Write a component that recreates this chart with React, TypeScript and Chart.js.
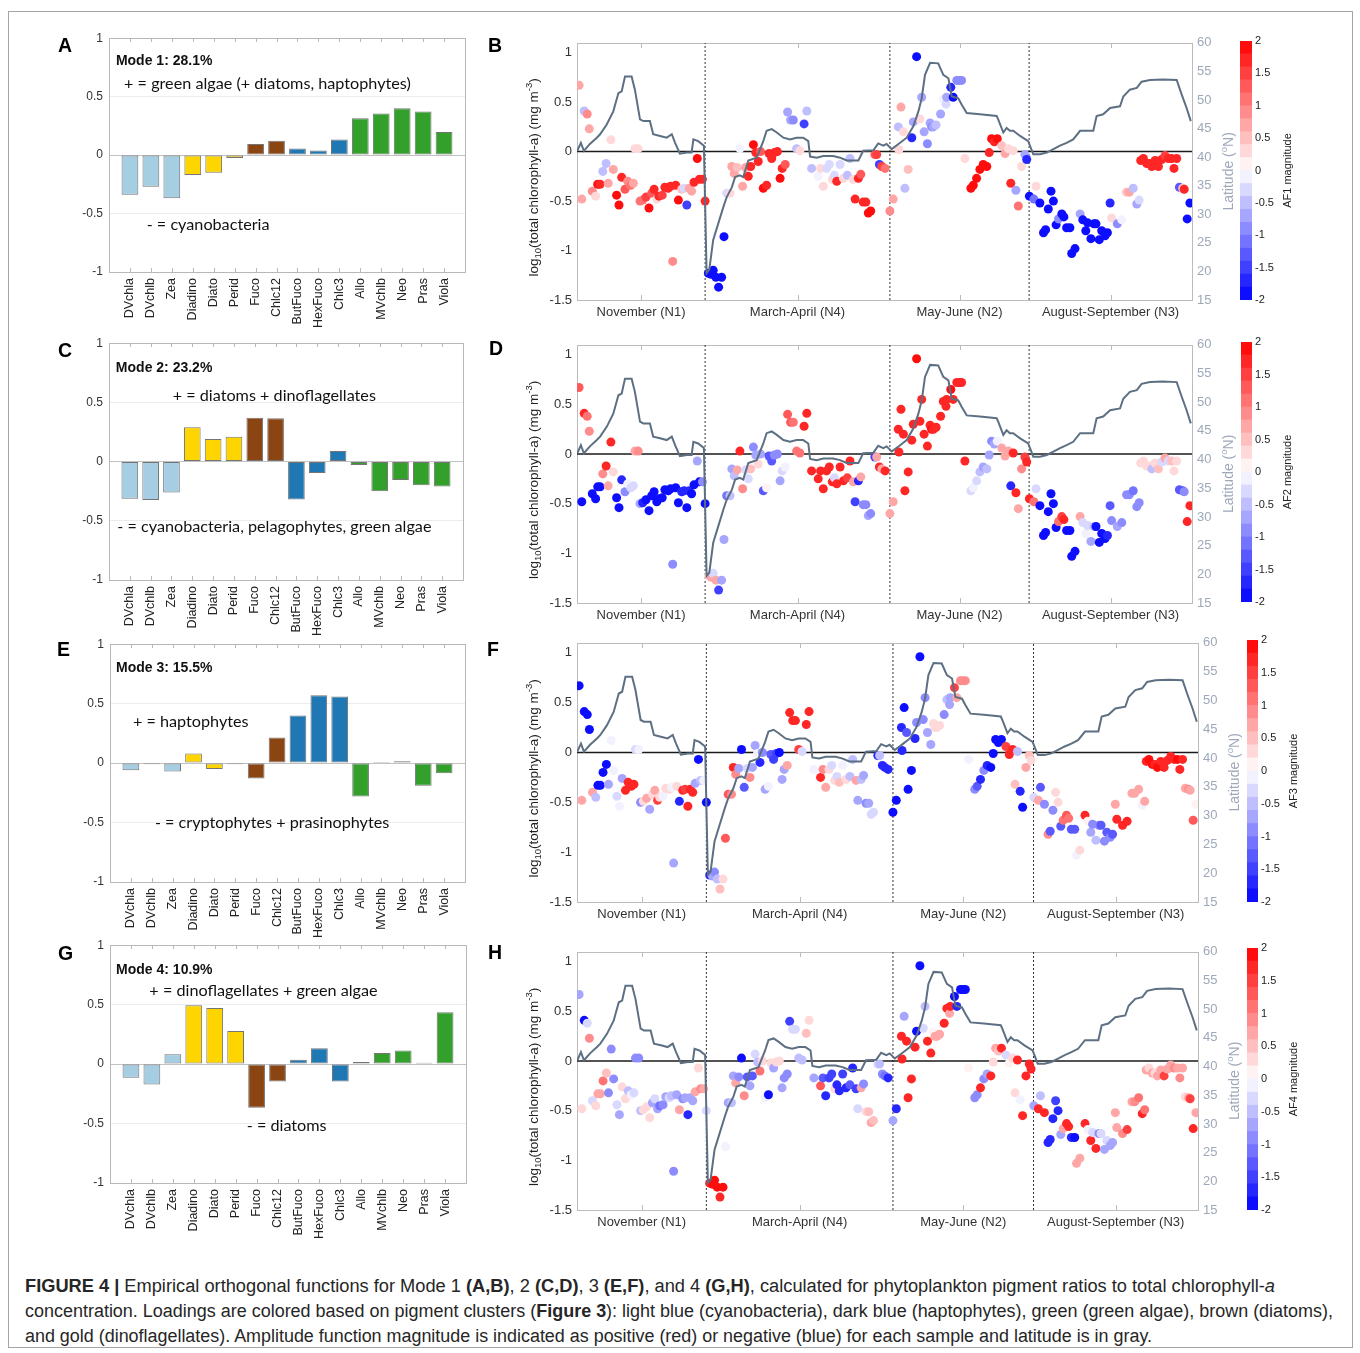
import React, { useEffect, useRef } from 'react';
import { Chart, registerables } from 'chart.js';

Chart.register(...registerables);

const SANS = '"Liberation Sans", Arial, Helvetica, sans-serif';
const NOTE_FONT = 'Lato, "Open Sans", sans-serif';
const LAT_COLOR = '#9ea8b9';

// ---------------- Loadings (left panels) ----------------
const pigments = ['DVchla', 'DVchlb', 'Zea', 'Diadino', 'Diato', 'Perid', 'Fuco', 'Chlc12', 'ButFuco', 'HexFuco', 'Chlc3', 'Allo', 'MVchlb', 'Neo', 'Pras', 'Viola'];
const clusterColors = ['#a6cee3', '#a6cee3', '#a6cee3', '#ffd500', '#ffd500', '#ffd500', '#8b4513', '#8b4513', '#1f78b4', '#1f78b4', '#1f78b4', '#33a02c', '#33a02c', '#33a02c', '#33a02c', '#33a02c'];
const mode1Loadings = [-0.34, -0.27, -0.37, -0.17, -0.15, -0.025, 0.095, 0.123, 0.056, 0.04, 0.134, 0.316, 0.355, 0.40, 0.374, 0.198];
const mode2Loadings = [-0.314, -0.325, -0.26, 0.29, 0.19, 0.21, 0.37, 0.367, -0.32, -0.097, 0.09, -0.028, -0.25, -0.155, -0.2, -0.21];
const mode3Loadings = [-0.06, -0.01, -0.07, 0.08, -0.05, -0.01, -0.13, 0.215, 0.40, 0.57, 0.56, -0.28, 0.01, 0.015, -0.19, -0.085];
const mode4Loadings = [-0.114, -0.172, 0.083, 0.494, 0.472, 0.278, -0.367, -0.147, 0.036, 0.133, -0.147, 0.017, 0.094, 0.114, 0.011, 0.436];
const loadingTicks = [-1, -0.5, 0, 0.5, 1];

// ---------------- Amplitude functions (right panels) ----------------
const cruiseLabels = ['November (N1)', 'March-April (N4)', 'May-June (N2)', 'August-September (N3)'];
const cruiseBounds = [0, 42.7, 104.3, 150.7, 205];
const chlTicks = [-1.5, -1, -0.5, 0, 0.5, 1];
const chlMax = 1.1;
const latTicks = [15, 20, 25, 30, 35, 40, 45, 50, 55, 60];
const magTicks = [-2, -1.5, -1, -0.5, 0, 0.5, 1, 1.5, 2];

const sampleX = [
  0.7, 1.6, 2.4, 3.4, 4.1, 5.1, 6.2, 6.9, 7.7, 8.6, 9.7, 10.4, 11.3, 12.1, 13.2, 14.0, 14.9, 16.0, 16.9, 17.9, 18.8, 19.3, 20.4, 21.0, 21.9, 23.0, 24.0, 24.9, 25.7, 26.6, 27.3, 28.4, 29.3, 30.4, 31.2, 31.9, 32.9, 33.8, 34.9, 35.7, 36.6, 37.4, 38.2, 39.0, 40.1, 40.8, 41.8, 42.7,
  43.8, 44.7, 45.4, 46.3, 47.2, 48.2, 49.0, 49.9, 51.0, 51.6, 52.4, 53.4, 54.3, 55.2, 56.2, 57.1, 57.9, 58.8, 59.6, 60.4, 61.2, 62.1, 63.2, 64.0, 64.9, 65.8, 66.8, 67.7, 68.4, 69.4, 70.2, 71.2, 72.1, 73.2, 74.3, 75.7, 76.6, 78.2, 80.4, 81.2, 82.1, 83.2, 84.1, 85.1, 85.8, 86.6, 87.7, 88.8, 90.1, 91.0, 92.1, 92.7, 93.8, 94.6, 95.4, 96.3, 97.1, 97.9, 99.3, 99.9, 100.8, 101.6, 102.7, 104.3,
  105.4, 107.1, 107.3, 108.0, 108.8, 109.3, 110.4, 111.6, 112.1, 113.2, 114.3, 114.9, 115.7, 116.8, 117.7, 118.2, 118.8, 119.7, 121.2, 122.1, 123.0, 123.2, 124.6, 125.4, 126.6, 127.4, 128.2, 129.3, 131.3, 132.1, 133.2, 134.3, 135.4, 136.6, 137.4, 138.2, 139.1, 140.1, 141.6, 142.7, 143.8, 144.6, 145.4, 146.3, 147.1, 148.2, 149.3, 149.9,
  150.8, 152.3, 153.0, 154.3, 155.5, 156.2, 157.1, 158.0, 158.8, 159.7, 160.5, 161.6, 162.3, 163.2, 164.3, 164.9, 166.0, 167.7, 168.6, 169.6, 170.2, 171.3, 172.3, 173.0, 174.1, 174.9, 176.0, 176.8, 177.7, 178.2, 180.1, 181.6, 183.2, 184.1, 185.4, 186.6, 187.4, 187.9, 188.8, 189.9, 190.8, 191.6, 192.7, 193.8, 194.9, 196.0, 197.1, 198.2, 199.0, 199.9, 200.8, 201.9, 202.4, 203.4, 204.3,
];

const logChl = [
  0.67, -0.48, 0.41, 0.38, 0.23, -0.40, -0.45, -0.33, -0.33, -0.20, -0.12, -0.32, 0.12, -0.18, -0.44, -0.54, -0.26, -0.38, -0.30, -0.34, -0.32, 0.03, 0.03, -0.50, -0.49, -0.46, -0.57, -0.42, -0.38, -0.48, -0.45, -0.44, -0.36, -0.37, -0.35, -1.11, -0.34, -0.49, -0.38, -0.37, -0.54, -0.37, -0.40, -0.31, -0.07, -0.28, -0.28, -0.50,
  -1.23, -1.24, -1.20, -1.27, -1.37, -1.27, -0.86, -0.42, -0.42, -0.15, -0.22, -0.16, 0.03, -0.35, -0.16, -0.25, -0.15, 0.07, -0.01, -0.10, 0.00, -0.37, -0.34, -0.02, -0.07, -0.01, 0.00, -0.27, -0.17, -0.13, 0.40, 0.32, 0.32, 0.03, 0.01, 0.28, 0.41, -0.17, -0.25, -0.17, -0.35, -0.17, -0.13, -0.28, -0.24, -0.30, -0.13, -0.27, -0.24, -0.07, -0.28, -0.48, -0.27, -0.23, -0.51, -0.51, -0.62, -0.60, -0.03, -0.03, -0.13, -0.15, -0.17, -0.60,
  -0.48, 0.25, 0.02, 0.45, 0.20, -0.37, -0.18, 0.14, 0.30, 0.96, 0.33, 0.55, 0.20, 0.08, 0.29, 0.25, 0.25, 0.27, 0.38, 0.53, 0.48, 0.55, 0.65, 0.55, 0.72, 0.72, 0.72, -0.07, -0.37, -0.34, -0.27, -0.18, -0.13, -0.15, -0.01, 0.13, 0.10, 0.13, 0.06, -0.02, 0.03, -0.32, 0.01, -0.39, -0.55, -0.15, -0.03, -0.08,
  -0.45, -0.48, -0.35, -0.52, -0.82, -0.79, -0.58, -0.40, -0.50, -0.74, -0.68, -0.63, -0.66, -0.77, -0.77, -1.03, -0.98, -0.63, -0.69, -0.80, -0.72, -0.88, -0.73, -0.73, -0.89, -0.80, -0.85, -0.82, -0.52, -0.67, -0.73, -0.69, -0.41, -0.41, -0.37, -0.53, -0.49, -0.09, -0.07, -0.12, -0.12, -0.15, -0.09, -0.15, -0.08, -0.04, -0.07, -0.07, -0.17, -0.07, -0.36, -0.37, -0.38, -0.68, -0.52,
];

const af1 = [
  0.8, 0.8, -0.5, 0.9, 0.8, 0.9, 0.2, 2, 1.8, -0.5, -0.5, 0.7, 0.2, 0.6, 2, 2, 1.8, 1.2, 0.9, 1.0, 0.8, 0.4, 0.4, 1.0, 1.0, 1.5, 2, 1.3, 1.7, 0.4, 1.8, 1.5, 1.7, 1.6, 1.7, 0.9, 1.8, 1.9, 0.5, -0.4, -1.5, 0.6, 0.6, 1.8, 2, 1.8, 1.7, 1.6,
  -2, -2, -2, -2, -2, -2, -2, -0.3, 0.2, 0.7, 0.6, 0.5, -0.2, 0.8, 0.8, 1.7, 1.6, 2, 1.8, 1.6, 1.3, 2, 1.7, 1.8, 1.8, 1.8, 1.8, 2, 1.6, 1.2, -0.7, -0.6, -0.9, -0.5, 0.3, -1.5, -0.5, -0.5, -0.2, 0.2, 0.3, -0.4, -0.4, 0.2, -0.4, 1.8, -0.4, 0.2, -0.5, -0.5, 0.3, 1.8, 1.6, 1.2, 1.8, 1.8, 2, 1.9, 1.2, 1.5, -1.5, 1.4, 1.1, 0.9,
  0.8, -0.5, 0.2, 0.6, 0.3, -0.5, 0.5, -1.6, -0.6, -2, 0.4, -0.7, -0.6, -0.8, -0.6, -0.8, -0.7, -0.5, -0.7, -0.2, -0.3, -0.6, -1.6, -1.8, -1.0, -1.0, -1.0, 0.4, 2, 2, 2, 1.9, 1.9, 1.9, 1.8, 1.9, 1.8, 1.9, 0.5, 0.8, 0.4, 1.8, 0.4, -0.6, 1.1, 0.2, -0.6, -1.6,
  -1.8, -1.2, 0.4, -1.8, -2, -2, -2, -1.8, -1.8, -1.9, -0.8, -1.8, -1.8, -1.9, -1.9, -2, -2, -0.6, -1.8, -1.9, -1.9, -1.9, -1.9, -1.9, -1.9, -1.9, -1.9, -1.9, -1.6, 0.4, -0.8, -0.2, 0.5, 0.7, -0.5, -0.6, -0.3, 1.8, 1.8, 1.8, 1.8, 1.8, 1.8, 1.8, 1.8, 1.4, 1.8, 1.8, 1.7, 1.8, -1.4, 0.5, 1.8, -1.8, -1.8,
];

const af2 = [
  1.2, -2, 1.8, 1.0, 0.9, -1.8, -2, -1.8, -1.8, 0.9, 1.6, 0.8, 1.8, 0.4, -1.8, -2, -1.6, -0.8, -0.2, -0.4, -0.4, 0.8, 0.9, -0.6, -1.6, -2, -2, -1.8, -2, -1.8, -1.8, -1.8, -2, -1.8, -2, -0.8, -1.8, -2, -1.6, -1.6, -2, -1.6, -1.8, -1.8, -0.7, -1.8, -0.8, -1.8,
  0.3, 0.6, -0.3, 0.6, -1.5, -0.6, -0.6, -1.2, -0.5, -0.6, -0.5, 0.7, 1.8, 0.9, -0.4, -0.3, 0.5, -0.8, -0.6, 0.2, -0.6, -1.4, 0.1, -1.3, -1.3, -0.8, -0.8, -0.7, -0.3, -0.2, 1.2, 1.2, 1.0, 1.0, 1.0, 1.8, 1.8, 1.8, 1.7, 1.8, 1.8, 1.7, 1.6, 1.6, -0.3, 1.7, 1.6, 1.8, 1.5, 1.8, 0.7, -1.5, -1.6, 0.7, -0.9, -0.8, -0.7, -0.8, -1.5, 0.6, 1.6, 0.8, 1.6, 0.8,
  0.8, 1.6, 1.6, 1.8, 1.7, 1.8, 1.7, 1.8, 1.7, 2, 1.8, 1.8, 1.8, 1.8, 1.8, 1.9, 1.8, 1.8, 1.8, 1.8, 1.8, 1.8, 1.9, 1.8, 1.8, 1.8, 1.8, 1.6, -0.3, -0.1, -0.4, -0.5, -0.6, -0.5, -0.7, -0.8, -0.6, -0.2, 0.6, 0.8, 0.7, -1.6, 1.8, 1.8, 0.8, 0.9, 1.5, 1.8,
  1.8, 1.0, -0.3, -1.8, -2, -2, -2, -1.8, -1.8, -2, 1.1, 1.4, 1.6, -1.9, -1.9, -2, -2, 0.8, -0.4, -0.2, -0.4, -0.6, -0.5, -1.8, -1.8, -1.8, -1.8, -1.7, -1.4, -0.8, -0.6, -0.8, -1.0, -1.0, -1.1, -1.0, -1.0, 0.2, 0.3, 0.3, 0.3, -0.5, 0.3, 0.5, -0.3, 0.6, -0.4, 0.5, 0.2, 0.3, -1.4, -1.3, -1.0, 1.8, 1.8,
];

const af3 = [
  -1.8, 0.7, -1.8, -1.8, -1.8, 0.6, -0.5, -1.8, -1.8, -1.8, -1.8, -0.6, -0.1, -0.2, -0.4, -0.2, -0.7, 1.6, 1.8, 1.8, 1.7, -0.3, -0.1, -0.8, 0.4, 0.6, -0.6, 0.4, 0.6, 1.4, 0.2, -0.1, 0.2, 0.3, -0.1, -0.6, 0.3, -1.6, 1.6, 1.4, 1.8, 1.7, 1.6, -0.6, -1.8, -0.5, -0.2, -1.8,
  -1.6, -0.6, -0.8, -0.5, 0.5, 0.4, 1.3, 1.2, 0.9, 1.6, 0.9, -0.7, -1.8, -1.4, -0.4, 0.9, -0.7, -0.7, -0.2, -1.6, -1.0, -0.7, -0.2, -1.4, -1.5, -1.5, -1.8, -0.6, -0.7, 0.7, 1.8, 1.8, 1.7, 1.4, -0.3, 1.6, 1.7, -0.1, 1.6, 0.9, 0.6, 0.2, -0.3, 0.3, -0.4, 0.5, -0.1, 0.2, -0.5, -0.5, 0.6, -0.7, -0.5, -0.6, -0.8, -0.7, -0.3, -0.4, -1.6, -0.5, -1.6, -1.6, -1.6, -1.8,
  -1.8, -1.6, -1.6, -1.8, -1.4, -1.8, -1.8, -1.6, -0.8, -2, -0.8, -0.8, -0.6, -0.6, 0.3, 0.2, 0.3, 0.3, -0.8, -0.5, -0.6, -0.7, 1.4, 0.6, 0.9, 0.9, 0.9, -0.2, -1.0, -1.4, -1.6, -1.0, -1.6, -1.8, -1.8, -1.8, -1.8, -1.8, 1.4, 1.6, 1.8, 0.5, -0.5, -1.6, -1.8, 0.8, 0.5, 0.4,
  -0.4, 0.6, -1.4, -1.0, 0.9, -1.4, -0.8, 0.4, 0.2, -1.4, 1.0, 1.3, 1.0, -1.4, -1.4, -0.2, 0.3, 1.6, 0.1, -0.6, -0.8, -0.5, -0.8, -1.3, -1.0, -1.4, -1.0, -1.3, 0.6, 1.8, 1.8, 1.7, 0.7, 0.7, 0.6, -0.1, 0.6, 1.8, 1.9, 1.9, 1.8, 1.9, 1.8, 1.8, 1.8, 1.8, 1.8, 1.9, 1.8, 1.8, 0.8, 0.9, 0.8, 1.3, 0.1,
];

const af4 = [
  -0.6, 0.3, -1.8, -0.3, 0.9, -0.3, 0.4, 0.8, 0.8, 1.0, 0.5, -0.8, -1.0, -0.9, -0.3, -0.6, 0.2, 0.3, -0.5, -0.2, -0.4, -0.8, -0.8, -0.5, 0.2, 0.4, 0.4, -0.6, -0.4, -0.6, -1.1, -1.0, -0.6, -0.4, -0.5, -0.8, -0.7, 0.6, -0.9, -0.7, -1.6, -0.7, -0.6, 0.7, 0.4, 0.9, 0.8, -0.4,
  1.8, 1.9, 2, 1.9, 1.8, 1.9, -0.1, -0.6, -0.5, -0.7, 0.7, -0.8, -1.8, 0.9, -1.3, -0.7, -1.3, -0.3, -0.5, 1.0, 0.4, -0.1, -1.8, 0.2, -0.6, 0.2, 0.2, -0.7, -0.8, -0.9, -1.5, -0.4, -0.4, -0.5, -0.5, 0.5, 0.4, -0.6, 1.3, -1.4, -1.6, -1.5, -1.5, 0.2, -1.6, -1.6, -1.5, -1.6, -1.4, -1.6, -1.5, -0.3, 0.6, -0.8, 0.4, 0.5, 0.6, 0.5, -0.4, -0.5, -1.0, -1.2, -1.6, -0.7,
  -1.6, 1.6, 1.8, -0.6, 1.6, 1.8, 1.8, 1.6, -1.8, -2, -0.3, -0.5, 1.6, 1.7, 0.1, 0.8, 0.7, 0.6, 1.6, 1.7, 0.8, 1.7, -1.8, -1.6, -1.8, -1.8, -1.8, 0.1, -0.8, -0.8, 1.6, -0.8, -0.6, 1.6, 0.2, 0.6, 0.5, 1.6, -0.3, 0.1, 0.2, 0.4, 1.8, -0.2, 1.8, 1.8, 1.8, 1.8,
  -0.6, 1.8, -0.5, 1.8, -1.6, -1.6, -1.6, -1.5, -1.6, -0.6, 0.7, 1.6, 1.8, -1.7, -1.8, 0.7, 0.6, 1.8, -0.1, 1.8, -0.3, 1.8, -1.0, -0.3, -0.7, -0.4, -0.6, -0.7, 0.6, 0.8, 0.9, 1.4, 0.8, 0.9, 1.0, 1.6, 1.0, 0.6, 0.3, 0.6, 0.4, 0.8, 0.8, 1.5, 0.8, 0.8, 0.9, 0.8, 0.9, 0.8, 0.4, 0.8, 1.4, 1.8, 0.8,
];

// ship track latitude (right axis)
const trackX = [
  0.1, 1.3, 2.3, 4.3, 6.6, 7.7, 9.9, 12.1, 13.8, 14.9, 16.0, 18.2, 19.3, 21.0, 22.1, 24.3, 25.4, 27.7, 29.9, 31.6, 32.7, 34.3, 36.6, 38.2, 38.8, 40.4, 42.3, 43.2, 44.1, 45.4, 47.1, 48.8, 49.9, 51.6, 52.7, 54.3, 55.4, 57.1, 59.9, 62.1, 63.2, 64.9, 66.6, 68.8, 71.0, 73.2, 75.4, 77.1, 77.7, 79.9, 82.1, 85.4, 87.7, 89.9, 93.8, 95.4, 98.8, 100.4, 102.1, 103.2, 104.9,
  107.7, 109.9, 112.1, 113.8, 114.9, 116.0, 117.7, 120.4, 122.1, 123.8, 124.9, 127.1, 128.2, 129.9, 134.3, 139.9, 140.4, 142.1, 143.2, 144.3, 145.4, 147.7, 150.4, 152.1, 154.3, 156.6, 158.8, 161.0, 163.2, 165.4, 167.7, 172.1, 173.2, 175.4, 177.7, 181.0, 182.1, 184.3, 186.6, 188.2, 191.0, 195.4, 199.9, 201.6, 203.2, 204.6,
];
const trackLat = [
  41.1, 42.5, 41.1, 42.3, 43.4, 44.0, 45.7, 48.0, 51.2, 51.5, 54.1, 54.1, 51.8, 46.6, 46.3, 46.3, 44.0, 43.7, 43.4, 44.0, 42.5, 40.6, 40.8, 40.8, 43.1, 42.8, 42.0, 19.7, 20.3, 25.5, 28.4, 31.3, 33.0, 34.7, 36.5, 36.8, 36.5, 39.4, 39.9, 42.8, 44.6, 44.9, 44.3, 43.4, 43.1, 43.4, 43.4, 42.8, 40.1, 39.9, 40.2, 40.2, 39.9, 39.4, 39.4, 41.1, 41.2, 42.4, 42.0, 42.3, 41.4,
  42.5, 43.4, 45.4, 48.0, 50.3, 54.4, 56.5, 56.4, 54.4, 53.8, 50.6, 50.3, 49.2, 47.7, 47.5, 47.2, 46.6, 44.3, 45.1, 44.6, 44.6, 43.7, 42.8, 40.5, 40.5, 40.8, 41.4, 42.0, 42.5, 43.1, 44.6, 44.6, 47.2, 47.5, 48.6, 48.9, 50.6, 51.8, 52.1, 53.2, 53.5, 53.6, 53.5, 50.9, 48.6, 46.3,
];

// ---------------- helpers ----------------
function magColor(m: number) {
  const k = Math.min(19, Math.max(0, Math.floor((m + 2) / 0.2)));
  const c = -2 + 0.2 * k + 0.1;
  const f = Math.round(255 * (1 - Math.abs(c) / 2));
  return c > 0 ? `rgb(255,${f},${f})` : `rgb(${f},${f},255)`;
}

const plainNumber = (v: any) => `${Math.round(Number(v) * 100) / 100}`;

type Seg = { t: string; size: number; dy?: number };
function drawRich(ctx: CanvasRenderingContext2D, cx: number, cy: number, segs: Seg[], color: string, rot: number) {
  ctx.save();
  ctx.translate(cx, cy);
  ctx.rotate(rot);
  ctx.fillStyle = color;
  ctx.textAlign = 'left';
  ctx.textBaseline = 'alphabetic';
  let total = 0;
  const ws = segs.map((s) => {
    ctx.font = `${s.size}px ${SANS}`;
    const w = ctx.measureText(s.t).width;
    total += w;
    return w;
  });
  let x = -total / 2;
  const base = segs[0].size * 0.36;
  segs.forEach((s, i) => {
    ctx.font = `${s.size}px ${SANS}`;
    ctx.fillText(s.t, x, base + (s.dy || 0));
    x += ws[i];
  });
  ctx.restore();
}

// box around the plot area plus short inward tick marks on the x axis (top and bottom)
const framePlugin = (color: string, tickLen: number) => ({
  id: 'frame',
  beforeDatasetsDraw(chart: any) {
    const { ctx, chartArea: a } = chart;
    const xs = chart.scales.x;
    ctx.save();
    ctx.strokeStyle = color;
    ctx.lineWidth = 1;
    const l = Math.round(a.left), t = Math.round(a.top), r = Math.round(a.right), b = Math.round(a.bottom);
    ctx.strokeRect(l + 0.5, t + 0.5, r - l, b - t);
    ctx.beginPath();
    xs.ticks.forEach((tk: any) => {
      const px = Math.round(xs.getPixelForValue(tk.value)) + 0.5;
      if (px <= l + 1 || px >= r - 1) return;
      ctx.moveTo(px, t);
      ctx.lineTo(px, t + tickLen);
      ctx.moveTo(px, b);
      ctx.lineTo(px, b - tickLen);
    });
    ctx.stroke();
    ctx.restore();
  },
});

type Note = { x: number; y: number; text: string; bold?: boolean };
const notesPlugin = (notes: Note[]) => ({
  id: 'notes',
  afterDatasetsDraw(chart: any) {
    const { ctx } = chart;
    const xs = chart.scales.x;
    const ys = chart.scales.y;
    notes.forEach((n) => {
      ctx.save();
      ctx.font = n.bold ? `bold 14px ${SANS}` : `16.2px ${NOTE_FONT}`;
      ctx.fillStyle = '#111';
      ctx.textAlign = 'left';
      ctx.textBaseline = 'middle';
      ctx.fillText(n.text, xs.getPixelForValue(n.x), ys.getPixelForValue(n.y));
      ctx.restore();
    });
  },
});

const scatterTitlesPlugin = () => ({
  id: 'axisTitles',
  afterDraw(chart: any) {
    const { ctx, chartArea: a } = chart;
    const mid = (a.top + a.bottom) / 2;
    drawRich(ctx, a.left - 44, mid + 6, [
      { t: 'log', size: 13.5 },
      { t: '10', size: 9.5, dy: 3 },
      { t: '(total chlorophyll-a) (mg m', size: 13.5 },
      { t: '-3', size: 9.5, dy: -6 },
      { t: ')', size: 13.5 },
    ], '#222', -Math.PI / 2);
    drawRich(ctx, a.right + 36, mid, [
      { t: 'Latitude (', size: 14 },
      { t: 'o', size: 9.5, dy: -6 },
      { t: 'N)', size: 14 },
    ], LAT_COLOR, -Math.PI / 2);
  },
});

const cbarTitlePlugin = (text: string) => ({
  id: 'cbarTitle',
  afterDraw(chart: any) {
    const { ctx, chartArea: a } = chart;
    drawRich(ctx, a.right + 35, (a.top + a.bottom) / 2, [{ t: text, size: 11 }], '#222', -Math.PI / 2);
  },
});

// ---------------- chart configs ----------------
function barConfig(values: number[], notes: Note[], xAxisH: number) {
  const labels = ['', ...pigments, ''];
  const data = [null, ...values, null];
  const colors = ['rgba(0,0,0,0)', ...clusterColors, 'rgba(0,0,0,0)'];
  return {
    type: 'bar',
    data: {
      labels,
      datasets: [{
        data,
        backgroundColor: colors,
        borderColor: 'rgba(70,70,70,0.75)',
        borderWidth: 1,
        borderSkipped: false,
        barPercentage: 0.8,
        categoryPercentage: 1,
      }],
    },
    options: {
      animation: false,
      responsive: false,
      events: [],
      layout: { padding: { top: 10, right: 26, left: 0, bottom: 0 } },
      plugins: { legend: { display: false }, tooltip: { enabled: false } },
      scales: {
        x: {
          type: 'category',
          offset: false,
          grid: { display: false, drawTicks: false },
          border: { display: false },
          ticks: { autoSkip: false, minRotation: 90, maxRotation: 90, padding: 6, color: '#222', font: { size: 12.5, family: SANS } },
          afterFit: (s: any) => { s.height = xAxisH; },
        },
        y: {
          min: loadingTicks[0],
          max: loadingTicks[loadingTicks.length - 1],
          afterBuildTicks: (s: any) => { s.ticks = loadingTicks.map((v) => ({ value: v })); },
          ticks: { padding: 6, color: '#333', font: { size: 12, family: SANS }, callback: plainNumber },
          grid: {
            drawTicks: false,
            lineWidth: 1,
            color: (c: any) => {
              const v = c.tick ? c.tick.value : null;
              if (v === 0) return '#c2c2c2';
              if (v === 0.5 || v === -0.5) return '#ececec';
              return 'rgba(0,0,0,0)';
            },
          },
          border: { display: false },
          afterFit: (s: any) => { s.width = 49; },
        },
      },
    },
    plugins: [framePlugin('#b8b8b8', 4), notesPlugin(notes)],
  };
}

function scatterConfig(mags: number[]) {
  const mids = cruiseBounds.slice(0, -1).map((b, i) => (b + cruiseBounds[i + 1]) / 2);
  const xMin = cruiseBounds[0];
  const xMax = cruiseBounds[cruiseBounds.length - 1];
  const yMin = chlTicks[0];
  const points = sampleX.map((x, i) => ({ x, y: logChl[i] }));
  const track = trackX.map((x, i) => ({ x, y: trackLat[i] }));
  const dividers = cruiseBounds.slice(1, -1).map((b) => ({
    type: 'scatter',
    data: [{ x: b, y: yMin }, { x: b, y: chlMax }],
    showLine: true,
    borderColor: '#333',
    borderWidth: 1,
    borderDash: [2, 2],
    pointRadius: 0,
    yAxisID: 'y',
    order: 3,
  }));
  return {
    type: 'scatter',
    data: {
      datasets: [
        { type: 'scatter', data: track, yAxisID: 'y2', showLine: true, borderColor: '#5d6f82', borderWidth: 2, pointRadius: 0, order: 0 },
        { type: 'scatter', data: points, yAxisID: 'y', pointRadius: 4.5, pointBackgroundColor: mags.map(magColor), pointBorderWidth: 0, order: 1 },
        { type: 'scatter', data: [{ x: xMin, y: 0 }, { x: xMax, y: 0 }], yAxisID: 'y', showLine: true, borderColor: '#1a1a1a', borderWidth: 1.5, pointRadius: 0, order: 2 },
        ...dividers,
      ],
    },
    options: {
      animation: false,
      responsive: false,
      events: [],
      layout: { padding: { top: 10, right: 0, left: 0, bottom: 0 } },
      plugins: { legend: { display: false }, tooltip: { enabled: false } },
      scales: {
        x: {
          type: 'linear',
          min: xMin,
          max: xMax,
          afterBuildTicks: (s: any) => { s.ticks = mids.map((v) => ({ value: v })); },
          ticks: { autoSkip: false, maxRotation: 0, padding: 5, color: '#333', font: { size: 13, family: SANS }, callback: (_v: any, i: number) => cruiseLabels[i] },
          grid: { display: false, drawTicks: false },
          border: { display: false },
          afterFit: (s: any) => { s.height = 24; },
        },
        y: {
          position: 'left',
          min: yMin,
          max: chlMax,
          afterBuildTicks: (s: any) => { s.ticks = chlTicks.map((v) => ({ value: v })); },
          ticks: { padding: 5, color: '#333', font: { size: 13, family: SANS }, callback: plainNumber },
          grid: { display: false, drawTicks: false },
          border: { display: false },
          afterFit: (s: any) => { s.width = 55; },
        },
        y2: {
          position: 'right',
          min: latTicks[0],
          max: latTicks[latTicks.length - 1],
          afterBuildTicks: (s: any) => { s.ticks = latTicks.map((v) => ({ value: v })); },
          ticks: { padding: 5, color: LAT_COLOR, font: { size: 13, family: SANS }, callback: plainNumber },
          grid: { display: false, drawTicks: false },
          border: { display: false },
          afterFit: (s: any) => { s.width = 44; },
        },
      },
    },
    plugins: [framePlugin('#bcbcbc', 5), scatterTitlesPlugin()],
  };
}

function cbarConfig(title: string) {
  const bands: { lo: number; hi: number }[] = [];
  for (let k = 0; k < 20; k++) bands.push({ lo: -2 + 0.2 * k, hi: -2 + 0.2 * (k + 1) });
  return {
    type: 'bar',
    data: {
      labels: [''],
      datasets: bands.map((b) => ({
        data: [[b.lo, b.hi]],
        backgroundColor: magColor((b.lo + b.hi) / 2),
        grouped: false,
        barPercentage: 1,
        categoryPercentage: 1,
        borderWidth: 0,
      })),
    },
    options: {
      animation: false,
      responsive: false,
      events: [],
      layout: { padding: { top: 10, right: 0, left: 0, bottom: 10 } },
      plugins: { legend: { display: false }, tooltip: { enabled: false } },
      scales: {
        x: { display: false },
        y: {
          position: 'right',
          min: magTicks[0],
          max: magTicks[magTicks.length - 1],
          afterBuildTicks: (s: any) => { s.ticks = magTicks.map((v) => ({ value: v })); },
          ticks: { padding: 3, color: '#222', font: { size: 11, family: SANS }, callback: plainNumber },
          grid: { display: false, drawTicks: false },
          border: { display: false },
          afterFit: (s: any) => { s.width = 50; },
        },
      },
    },
    plugins: [cbarTitlePlugin(title)],
  };
}

// ---------------- components ----------------
type Box = { left: number; top: number; width: number; height: number };
function ChartCanvas({ box, make }: { box: Box; make: () => any }) {
  const ref = useRef<HTMLCanvasElement | null>(null);
  useEffect(() => {
    const chart = new Chart(ref.current as HTMLCanvasElement, make());
    return () => chart.destroy();
  }, []);
  return (
    <canvas
      ref={ref}
      width={box.width}
      height={box.height}
      style={{ position: 'absolute', left: box.left, top: box.top, width: box.width, height: box.height }}
    />
  );
}

type Area = { L: number; T: number; R: number; B: number };
type Row = {
  letters: [string, string];
  letterPos: [[number, number], [number, number]];
  loadings: number[];
  notes: Note[];
  mags: number[];
  afName: string;
  bar: Area & { bottom: number };
  sc: Area;
  cb: Area;
};

const rows: Row[] = [
  {
    letters: ['A', 'B'], letterPos: [[58, 52], [488, 52]],
    loadings: mode1Loadings, mags: af1, afName: 'AF1 magnitude',
    notes: [
      { x: 0.33, y: 0.80, text: 'Mode 1: 28.1%', bold: true },
      { x: 0.72, y: 0.61, text: '+ = green algae (+ diatoms, haptophytes)' },
      { x: 1.8, y: -0.594, text: '- = cyanobacteria' },
    ],
    bar: { L: 109, T: 35, R: 465, B: 272, bottom: 332 },
    sc: { L: 577, T: 40, R: 1192, B: 300 },
    cb: { L: 1240, T: 41, R: 1252, B: 300 },
  },
  {
    letters: ['C', 'D'], letterPos: [[58, 357], [489, 355]],
    loadings: mode2Loadings, mags: af2, afName: 'AF2 magnitude',
    notes: [
      { x: 0.33, y: 0.79, text: 'Mode 2: 23.2%', bold: true },
      { x: 3.06, y: 0.556, text: '+ = diatoms + dinoflagellates' },
      { x: 0.4, y: -0.55, text: '- = cyanobacteria, pelagophytes, green algae' },
    ],
    bar: { L: 109, T: 340, R: 463, B: 580, bottom: 640 },
    sc: { L: 577, T: 342, R: 1192, B: 603 },
    cb: { L: 1241, T: 342, R: 1252, B: 602 },
  },
  {
    letters: ['E', 'F'], letterPos: [[57, 656], [487, 656]],
    loadings: mode3Loadings, mags: af3, afName: 'AF3 magnitude',
    notes: [
      { x: 0.29, y: 0.80, text: 'Mode 3: 15.5%', bold: true },
      { x: 1.1, y: 0.35, text: '+ = haptophytes' },
      { x: 2.15, y: -0.506, text: '- = cryptophytes + prasinophytes' },
    ],
    bar: { L: 110, T: 641, R: 465, B: 882, bottom: 942 },
    sc: { L: 577, T: 640, R: 1198, B: 902 },
    cb: { L: 1247, T: 640, R: 1258, B: 902 },
  },
  {
    letters: ['G', 'H'], letterPos: [[58, 960], [488, 959]],
    loadings: mode4Loadings, mags: af4, afName: 'AF4 magnitude',
    notes: [
      { x: 0.29, y: 0.79, text: 'Mode 4: 10.9%', bold: true },
      { x: 1.88, y: 0.62, text: '+ = dinoflagellates + green algae' },
      { x: 6.53, y: -0.52, text: '- = diatoms' },
    ],
    bar: { L: 110, T: 942, R: 466, B: 1183, bottom: 1243 },
    sc: { L: 577, T: 949, R: 1198, B: 1210 },
    cb: { L: 1247, T: 948, R: 1258, B: 1210 },
  },
];

function Letter({ text, x, baseline }: { text: string; x: number; baseline: number }) {
  return (
    <div style={{ position: 'absolute', left: x, top: baseline - 16.5, fontFamily: SANS, fontWeight: 'bold', fontSize: 19.5, lineHeight: '19.5px', color: '#000' }}>
      {text}
    </div>
  );
}

function RowView({ r }: { r: Row }) {
  const barBox = { left: r.bar.L - 49, top: r.bar.T - 10, width: r.bar.R - r.bar.L + 49 + 26, height: r.bar.bottom - r.bar.T + 10 };
  const xAxisH = r.bar.bottom - r.bar.B;
  const scBox = { left: r.sc.L - 55, top: r.sc.T - 10, width: r.sc.R - r.sc.L + 55 + 44, height: r.sc.B - r.sc.T + 10 + 24 };
  const cbBox = { left: r.cb.L, top: r.cb.T - 10, width: r.cb.R - r.cb.L + 50, height: r.cb.B - r.cb.T + 20 };
  return (
    <>
      <ChartCanvas box={barBox} make={() => barConfig(r.loadings, r.notes, xAxisH)} />
      <ChartCanvas box={scBox} make={() => scatterConfig(r.mags)} />
      <ChartCanvas box={cbBox} make={() => cbarConfig(r.afName)} />
      <Letter text={r.letters[0]} x={r.letterPos[0][0]} baseline={r.letterPos[0][1]} />
      <Letter text={r.letters[1]} x={r.letterPos[1][0]} baseline={r.letterPos[1][1]} />
    </>
  );
}

function CaptionLine({ top, target, children }: { top: number; target: number; children: any }) {
  const ref = useRef<HTMLDivElement | null>(null);
  useEffect(() => {
    const el = ref.current;
    if (!el) return;
    el.style.transform = 'none';
    const w = el.getBoundingClientRect().width;
    if (w > 0) el.style.transform = `scaleX(${target / w})`;
  }, []);
  return (
    <div
      ref={ref}
      style={{ position: 'absolute', left: 25, top, whiteSpace: 'nowrap', transformOrigin: '0 0', fontFamily: SANS, fontSize: 18, lineHeight: '25px', color: '#262626' }}
    >
      {children}
    </div>
  );
}

export default function App() {
  return (
    <div style={{ position: 'absolute', left: 0, top: 0, width: 1360, height: 1353, background: '#fff', overflow: 'hidden' }}>
      <div style={{ position: 'absolute', left: 8, top: 11, width: 1345, height: 1337, border: '1px solid #a5a5a5', boxSizing: 'border-box' }} />
      {rows.map((r) => <RowView key={r.letters[0]} r={r} />)}
      <CaptionLine top={1274} target={1250}>
        <b>FIGURE 4 |</b> Empirical orthogonal functions for Mode 1 <b>(A,B)</b>, 2 <b>(C,D)</b>, 3 <b>(E,F)</b>, and 4 <b>(G,H)</b>, calculated for phytoplankton pigment ratios to total chlorophyll-<i>a</i>
      </CaptionLine>
      <CaptionLine top={1299} target={1308}>
        concentration. Loadings are colored based on pigment clusters (<b>Figure 3</b>): light blue (cyanobacteria), dark blue (haptophytes), green (green algae), brown (diatoms),
      </CaptionLine>
      <CaptionLine top={1324} target={1127}>
        and gold (dinoflagellates). Amplitude function magnitude is indicated as positive (red) or negative (blue) for each sample and latitude is in gray.
      </CaptionLine>
    </div>
  );
}
